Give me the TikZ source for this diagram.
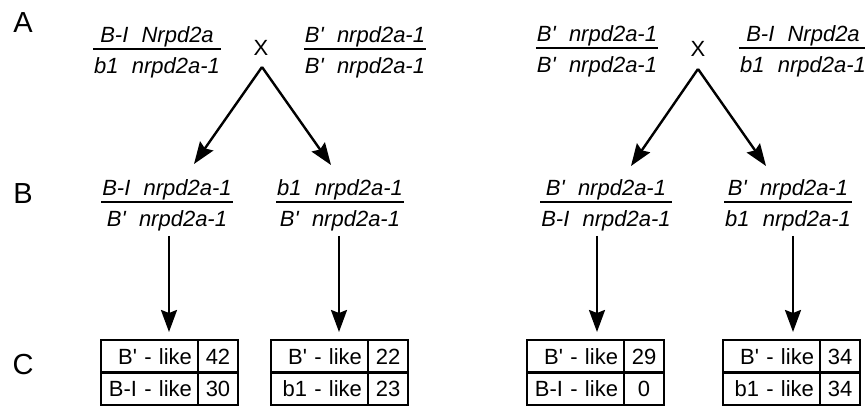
\documentclass[tikz,border=0pt]{standalone}
\usepackage{fontspec}
\setmainfont{Liberation Sans}
\usetikzlibrary{arrows.meta}
\newcommand{\ap}{\textquotesingle}
\newcommand{\gsp}{\hspace{0.6em}}
\newcommand{\geno}[2]{{\setlength{\arrayrulewidth}{2.5pt}\renewcommand{\arraystretch}{0}\itshape\begin{tabular}{@{\hspace{1pt}}c@{\hspace{1pt}}}\rule[-5pt]{0pt}{25pt}#1\\\hline\rule[-6pt]{0pt}{29pt}#2\end{tabular}}}
\begin{document}
\begin{tikzpicture}[x=1pt,y=-1pt,
  txt/.style={font=\fontsize{22}{25}\selectfont},
  geno/.style={txt, inner sep=0pt},
  lab/.style={font=\fontsize{29}{32}\selectfont, inner sep=0pt},
  cross/.style={font=\fontsize{22}{24}\selectfont, inner sep=0pt},
  arr/.style={line width=2.4pt, -{Stealth[length=22pt,width=16pt,inset=3pt]}},
  cell/.style={txt, draw, line width=2.2pt, outer sep=0pt, minimum height=32.5pt,
    inner ysep=0pt, text height=15.8pt, text depth=0pt},
  lcell/.style={cell, text width=85pt, inner xsep=6pt, align=right},
  rcell/.style={cell, text width=40pt, inner xsep=0pt, align=center}]
\useasboundingbox (0,0) rectangle (865,406);
% row labels
\node[lab] (la) at (23,23) {A};
\node[lab] (lb) at (23,194) {B};
\node[lab] (lc) at (23,365) {C};
% parents
\node[geno] (g1) at (157,51) {\geno{B-I\gsp Nrpd2a}{b1\gsp nrpd2a-1}};
\node[cross] (x1) at (261,48) {X};
\node[geno] (g2) at (365,51) {\geno{B\ap\gsp nrpd2a-1}{B\ap\gsp nrpd2a-1}};
\node[geno] (g3) at (597,50) {\geno{B\ap\gsp nrpd2a-1}{B\ap\gsp nrpd2a-1}};
\node[cross] (x2) at (698,49) {X};
\node[geno] (g4) at (803,50) {\geno{B-I\gsp Nrpd2a}{b1\gsp nrpd2a-1}};
% progeny
\node[geno] (g5) at (167,204) {\geno{B-I\gsp nrpd2a-1}{B\ap\gsp nrpd2a-1}};
\node[geno] (g6) at (340,204) {\geno{b1\gsp nrpd2a-1}{B\ap\gsp nrpd2a-1}};
\node[geno] (g7) at (606,204) {\geno{B\ap\gsp nrpd2a-1}{B-I\gsp nrpd2a-1}};
\node[geno] (g8) at (788,204) {\geno{B\ap\gsp nrpd2a-1}{b1\gsp nrpd2a-1}};
% cross arrows
\coordinate (a1) at (262,67);
\coordinate (e1) at (194,164);
\coordinate (e2) at (331,165);
\coordinate (a2) at (698,69);
\coordinate (e3) at (631,166);
\coordinate (e4) at (766,166);
\draw[arr] (a1) -- (e1);
\draw[arr] (a1) -- (e2);
\draw[arr] (a2) -- (e3);
\draw[arr] (a2) -- (e4);
% tables
\node[lcell, anchor=north west] (t1a) at (101,340) {B\ap{} - like};
\node[rcell, anchor=west] (t1b) at (t1a.east) {42};
\node[lcell, anchor=north] (t1c) at (t1a.south) {B-I - like};
\node[rcell, anchor=west] (t1d) at (t1c.east) {30};
\node[lcell, anchor=north west] (t2a) at (271,340) {B\ap{} - like};
\node[rcell, anchor=west] (t2b) at (t2a.east) {22};
\node[lcell, anchor=north] (t2c) at (t2a.south) {b1 - like};
\node[rcell, anchor=west] (t2d) at (t2c.east) {23};
\node[lcell, anchor=north west] (t3a) at (527,340) {B\ap{} - like};
\node[rcell, anchor=west] (t3b) at (t3a.east) {29};
\node[lcell, anchor=north] (t3c) at (t3a.south) {B-I - like};
\node[rcell, anchor=west] (t3d) at (t3c.east) {0};
\node[lcell, anchor=north west] (t4a) at (723,340) {B\ap{} - like};
\node[rcell, anchor=west] (t4b) at (t4a.east) {34};
\node[lcell, anchor=north] (t4c) at (t4a.south) {b1 - like};
\node[rcell, anchor=west] (t4d) at (t4c.east) {34};
% vertical arrows
\coordinate (v1) at (169,236);
\coordinate (v2) at (339,236);
\coordinate (v3) at (597,236);
\coordinate (v4) at (793,236);
\draw[arr, shorten >=8pt] (v1) -- (v1 |- t1a.north);
\draw[arr, shorten >=8pt] (v2) -- (v2 |- t2a.north);
\draw[arr, shorten >=8pt] (v3) -- (v3 |- t3a.north);
\draw[arr, shorten >=8pt] (v4) -- (v4 |- t4a.north);
\end{tikzpicture}
\end{document}
